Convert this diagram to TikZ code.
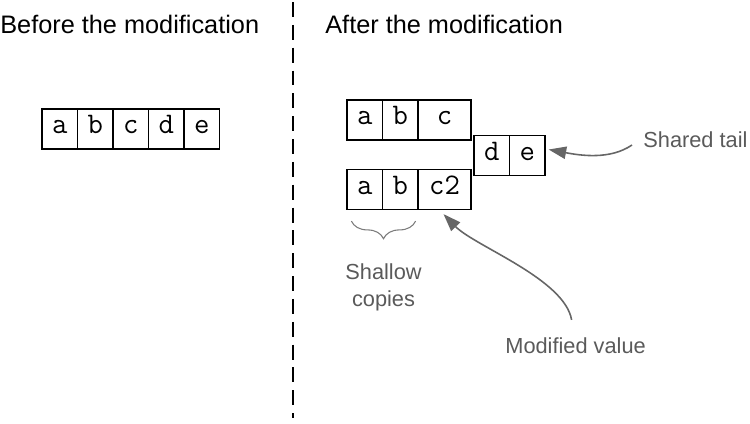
\documentclass[tikz,border=0pt]{standalone}
\usepackage{fontspec}
\setmainfont{Liberation Sans}
\usepackage{xcolor}
\usetikzlibrary{arrows.meta,positioning,calc,decorations.pathreplacing}
\definecolor{notegray}{HTML}{5A5A5A}
\definecolor{arrowgray}{HTML}{666666}

\begin{document}
\begin{tikzpicture}[x=0.02cm, y=-0.02cm,
  cell/.style={draw, line width=0.7pt, minimum height=0.8cm, minimum width=0.71cm, inner sep=0pt, text height=1ex, text depth=0pt, font=\ttfamily\fontsize{17}{19}\selectfont},
  wide/.style={cell, minimum width=1.06cm},
  title/.style={anchor=base west, inner sep=0pt, font=\fontsize{14.4}{17}\selectfont},
  note/.style={text=notegray, inner sep=0pt, align=center, font=\fontsize{12.4}{15.3}\selectfont},
  curve/.style={draw=arrowgray, line width=0.9pt, -{Triangle[length=10pt,width=7pt]}},
  split/.style={line width=1pt, dash pattern=on 8.5pt off 4.5pt}
]
  \useasboundingbox (0,0) rectangle (750,423);
  \node[title] (before) at (0,33) {Before the modification};
  \node[title] (after) at (325,33) {After the modification};
  \coordinate (top) at (293,2);
  \coordinate (bottom) at (293,418);
  \draw[split] (top) -- (bottom);

  \node[cell] (l1) at (59.75,129) {a};
  \node[cell] (l2) at (95.25,129) {b};
  \node[cell] (l3) at (130.75,129) {c};
  \node[cell] (l4) at (166.25,129) {d};
  \node[cell] (l5) at (201.75,129) {e};

  \node[cell] (a1) at (364.75,120) {a};
  \node[cell] (b1) at (400.25,120) {b};
  \node[wide] (c1) at (444.5,120) {c};
  \node[cell] (d) at (491.75,155.5) {d};
  \node[cell] (e) at (527.25,155.5) {e};
  \node[cell] (a2) at (364.75,189.5) {a};
  \node[cell] (b2) at (400.25,189.5) {b};
  \node[wide] (c2) at (444.5,189.5) {c2};

  \node[note, anchor=base west] (tail) at (643,147) {Shared tail};
  \node[note, anchor=base west] (modval) at (505,353) {Modified value};
  \node[note, anchor=north] (shallow) at (383.5,263) {Shallow\\copies};

  \draw[curve] ([shift={(-11,-2)}]tail.base west) .. controls +(-22,15) and +(32,6) .. ([shift={(3,-6)}]e.east);
  \draw[curve] ([shift={(-4,-17)}]modval.north) .. controls +(-7,-41) and +(31,32) .. ([shift={(-1,4)}]c2.south);
  \draw[notegray!80, line width=0.6pt, decorate, decoration={brace, amplitude=10pt}]
    ([shift={(-3,11)}]b2.south east) -- ([shift={(5,11)}]a2.south west);
\end{tikzpicture}
\end{document}
